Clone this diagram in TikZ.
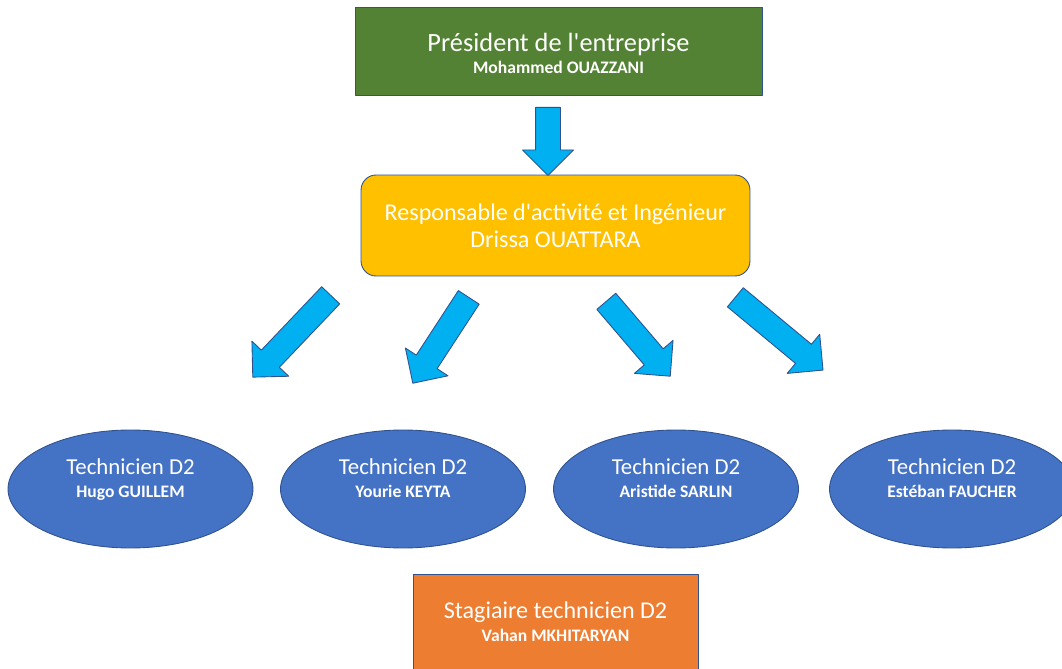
\documentclass[tikz,border=0pt]{standalone}
\usepackage{fontspec}
\setmainfont{Carlito}
\usetikzlibrary{shapes.geometric,shapes.arrows}
\definecolor{vertP}{RGB}{84,130,53}
\definecolor{jauneR}{RGB}{255,192,0}
\definecolor{bleuT}{RGB}{68,114,196}
\definecolor{orangeS}{RGB}{237,125,49}
\definecolor{cyanF}{RGB}{0,176,240}
\definecolor{bordure}{RGB}{47,82,143}
\newcommand{\fsz}[2]{\fontsize{#1pt}{#2pt}\selectfont}
\begin{document}
\begin{tikzpicture}[x=0.02cm, y=-0.02cm, line join=round,
	poste/.style={draw=bordure, line width=0.5pt, text=white, align=center, inner sep=0pt},
	tech/.style={poste, ellipse, fill=bleuT, minimum width=4.9cm, minimum height=2.36cm, font=\fsz{10}{13.2}, text height=10.1pt, text depth=0pt},
	fleche/.style={single arrow, draw=bordure, line width=0.5pt, fill=cyanF, inner xsep=0pt, inner ysep=0.24cm, single arrow head extend=0.26cm, anchor=tail}]
	\useasboundingbox (0,0) rectangle (1062,669);
	\coordinate (P) at (558.5,51);
	\coordinate (R) at (555.5,225.5);
	\coordinate (T1) at (130.5,489);
	\coordinate (T2) at (403,489);
	\coordinate (T3) at (676,489);
	\coordinate (T4) at (952,489);
	\coordinate (S) at (555.5,622);
	\coordinate (F0) at (548,107);
	\coordinate (F1) at (331,295);
	\coordinate (F2) at (469,297);
	\coordinate (F3) at (606,301);
	\coordinate (F4) at (735,297);
	\node[poste, fill=vertP, minimum width=8.14cm, minimum height=1.76cm, font=\fsz{10}{12.6}, text height=25.6pt, text depth=0pt] (pres) at (P) {{\fsz{15}{12.6}Président de l\textquotesingle entreprise}\\{\bfseries Mohammed OUAZZANI}};
	\node[poste, fill=jauneR, rounded corners=0.3cm, minimum width=7.78cm, minimum height=2.02cm, font=\fsz{13.7}{15.4}, text height=25.6pt, text depth=0.8pt] (resp) at (R) {Responsable d\textquotesingle activité et Ingénieur\\Drissa OUATTARA};
	\node[tech] (tech1) at (T1) {{\fsz{13}{13.2}Technicien D2}\\{\bfseries Hugo GUILLEM}};
	\node[tech] (tech2) at (T2) {{\fsz{13}{13.2}Technicien D2}\\{\bfseries Yourie KEYTA}};
	\node[tech] (tech3) at (T3) {{\fsz{13}{13.2}Technicien D2}\\{\bfseries Aristide SARLIN}};
	\node[tech] (tech4) at (T4) {{\fsz{13}{13.2}Technicien D2}\\{\bfseries Estéban FAUCHER}};
	\node[poste, fill=orangeS, minimum width=5.7cm, minimum height=1.92cm, font=\fsz{10}{13}, text height=23.2pt, text depth=1.4pt] (stag) at (S) {{\fsz{13.7}{13}Stagiaire technicien D2}\\{\bfseries Vahan MKHITARYAN}};
	\node[fleche, rotate=-90, minimum height=1.36cm] (f0) at (F0) {};
	\node[fleche, rotate=226.4, minimum height=2.26cm] (f1) at (F1) {};
	\node[fleche, rotate=236.9, minimum height=2.05cm] (f2) at (F2) {};
	\node[fleche, rotate=-49.5, minimum height=1.97cm] (f3) at (F3) {};
	\node[fleche, rotate=-39.7, minimum height=2.28cm] (f4) at (F4) {};
\end{tikzpicture}
\end{document}
